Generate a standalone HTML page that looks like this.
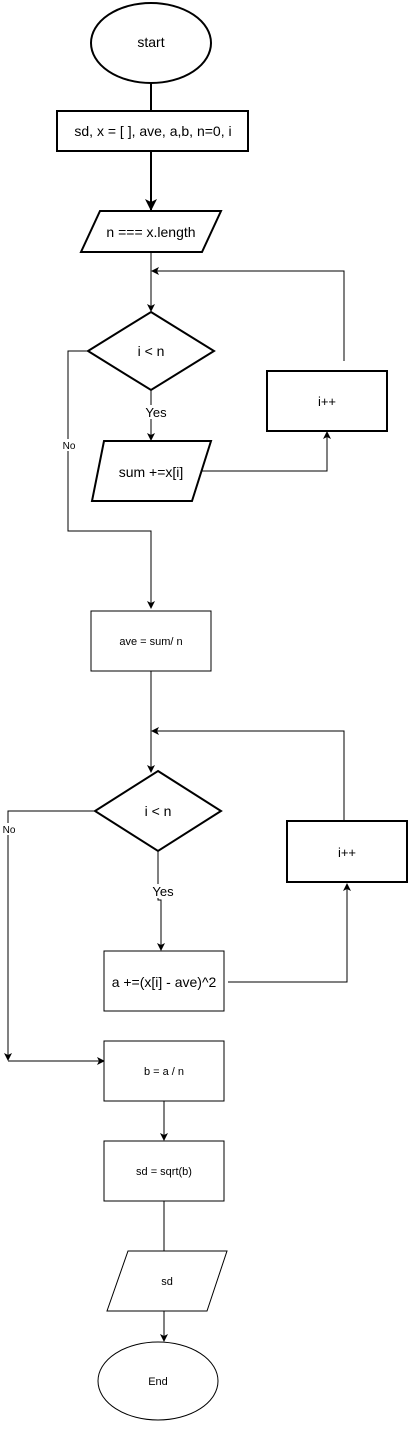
<!DOCTYPE html>
<html><head><meta charset="utf-8"><style>
html,body{margin:0;padding:0;background:#fff;}
svg{display:block;}
text{font-family:"Liberation Sans",Arial,sans-serif;fill:#000;}
</style></head><body>
<svg width="420" height="1433" viewBox="0 0 420 1433" xmlns="http://www.w3.org/2000/svg">
<defs>
<marker id="a" markerWidth="8" markerHeight="8" refX="7" refY="4" orient="auto" markerUnits="userSpaceOnUse">
<path d="M0,0 L8,4 L0,8 L2,4 Z" fill="#000"/></marker>
<marker id="b" markerWidth="12" markerHeight="12" refX="11" refY="6" orient="auto" markerUnits="userSpaceOnUse">
<path d="M0,0 L12,6 L0,12 L3,6 Z" fill="#000"/></marker>
</defs>
<g fill="none" stroke="#000">
<!-- start -->
<ellipse cx="151" cy="43" rx="60" ry="40" stroke-width="2" fill="#fff"/>
<line x1="151" y1="83" x2="151" y2="111" stroke-width="2"/>
<rect x="57" y="111" width="191" height="40" stroke-width="2" fill="#fff"/>
<line x1="151" y1="151" x2="151" y2="210" stroke-width="2" marker-end="url(#b)"/>
<polygon points="100,211 221,211 202,252 81,252" stroke-width="2" fill="#fff"/>
<line x1="151" y1="252" x2="151" y2="311" stroke-width="1" marker-end="url(#a)"/>
<polyline points="344,361 344,271 152,271" stroke-width="1" marker-end="url(#a)"/>
<polygon points="151,312 214,351 151,390 88,351" stroke-width="2" fill="#fff"/>
<line x1="151" y1="390" x2="151" y2="440" stroke-width="1" marker-end="url(#a)"/>
<polygon points="104,441 211,441 192,501 92,501" stroke-width="2" fill="#fff"/>
<polyline points="202,471 327,471 327,432" stroke-width="1" marker-end="url(#a)"/>
<rect x="267" y="371" width="120" height="60" stroke-width="2" fill="#fff"/>
<polyline points="88,351 68,351 68,531 151,531 151,608" stroke-width="1" marker-end="url(#a)"/>
<rect x="91" y="611" width="120" height="60" stroke-width="1" fill="#fff"/>
<polyline points="151,671 151,731 151,772" stroke-width="1" marker-end="url(#a)"/>
<polyline points="344,821 344,731 152,731" stroke-width="1" marker-end="url(#a)"/>
<polygon points="158,771 221,811 158,851 95,811" stroke-width="2" fill="#fff"/>
<polyline points="158,851 158,900 161,900 161,950" stroke-width="1" marker-end="url(#a)"/>
<rect x="104" y="951" width="120" height="60" stroke-width="1" fill="#fff"/>
<polyline points="228,982 347,982 347,884" stroke-width="1" marker-end="url(#a)"/>
<rect x="287" y="821" width="120" height="61" stroke-width="2" fill="#fff"/>
<polyline points="95,811 8,811 8,1060" stroke-width="1" marker-end="url(#a)"/>
<polyline points="8,1061 104,1061" stroke-width="1" marker-end="url(#a)"/>
<rect x="104" y="1041" width="120" height="60" stroke-width="1" fill="#fff"/>
<line x1="164" y1="1101" x2="164" y2="1140" stroke-width="1" marker-end="url(#a)"/>
<rect x="104" y="1141" width="120" height="60" stroke-width="1" fill="#fff"/>
<line x1="164" y1="1201" x2="164" y2="1251" stroke-width="1"/>
<polygon points="128,1251 227,1251 207,1311 107,1311" stroke-width="1" fill="#fff"/>
<line x1="164" y1="1311" x2="164" y2="1341" stroke-width="1" marker-end="url(#a)"/>
<ellipse cx="158" cy="1381" rx="60" ry="39" stroke-width="1" fill="#fff"/>
</g>
<!-- labels bg -->
<rect x="143" y="405" width="26" height="14" fill="#fff"/>
<rect x="150" y="884" width="26" height="14" fill="#fff"/>
<rect x="61" y="439" width="16" height="12" fill="#fff"/>
<rect x="1" y="823" width="16" height="12" fill="#fff"/>
<g text-anchor="middle">
<text x="151" y="47" font-size="14">start</text>
<text x="153" y="136" font-size="14">sd, x = [ ], ave, a,b, n=0, i</text>
<text x="151" y="237" font-size="14">n === x.length</text>
<text x="151" y="356" font-size="14">i &lt; n</text>
<text x="156" y="417" font-size="13">Yes</text>
<text x="151" y="477" font-size="14">sum +=x[i]</text>
<text x="327" y="406" font-size="13">i++</text>
<text x="69" y="449" font-size="10">No</text>
<text x="151" y="645" font-size="11">ave = sum/ n</text>
<text x="158" y="816" font-size="14">i &lt; n</text>
<text x="163" y="896" font-size="13">Yes</text>
<text x="347" y="857" font-size="13">i++</text>
<text x="9" y="833" font-size="10">No</text>
<text x="164" y="987" font-size="14">a +=(x[i] - ave)^2</text>
<text x="164" y="1075" font-size="11">b = a / n</text>
<text x="164" y="1175" font-size="11">sd = sqrt(b)</text>
<text x="167" y="1285" font-size="11">sd</text>
<text x="158" y="1385" font-size="11">End</text>
</g>
</svg>
</body></html>
